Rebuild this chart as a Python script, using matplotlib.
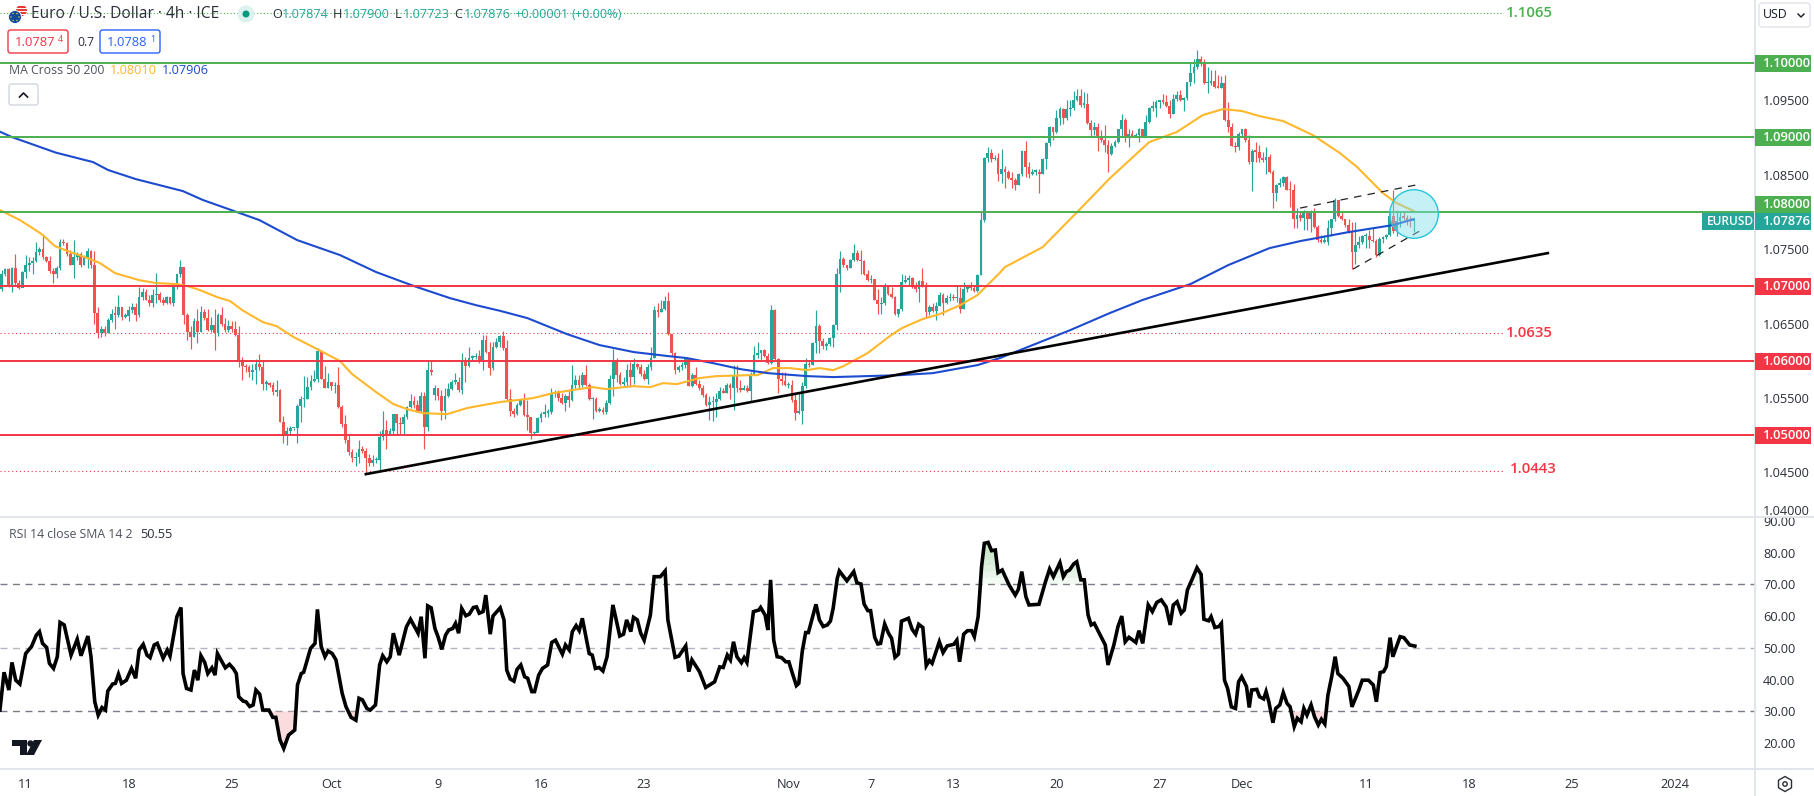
"""EUR/USD 4h chart with MA cross and RSI panel, redrawn in matplotlib."""
import numpy as np
import matplotlib
matplotlib.use("Agg")
import matplotlib.pyplot as plt
from matplotlib.patches import Circle, FancyBboxPatch, Polygon, Rectangle, RegularPolygon

plt.rcParams["font.family"] = ["Open Sans", "DejaVu Sans"]

# ---------------- data, candles in pips above 1.0000 ----------------
first_bar = -7
first_open = 697
gap_opens = {119: 554}
closes = [716, 723, 700, 725, 704, 698, 719,
    728, 731, 734, 746, 750, 740, 734, 721, 716, 725,
    759, 758, 744, 729, 740, 744, 729, 740, 747, 729,
    664, 637, 642, 637, 655, 663, 662, 672, 659, 660,
    668, 672, 661, 686, 692, 682, 677, 688, 690, 682,
    677, 685, 678, 699, 716, 726, 661, 638, 632, 654,
    638, 665, 657, 641, 648, 637, 661, 649, 641, 647,
    642, 635, 600, 593, 591, 585, 587, 596, 591, 569,
    570, 568, 558, 560, 518, 499, 505, 509, 509, 539,
    548, 549, 565, 573, 576, 613, 576, 564, 572, 566,
    567, 538, 515, 494, 477, 469, 471, 482, 479, 469,
    463, 466, 466, 497, 507, 500, 506, 528, 516, 515,
    524, 538, 546, 540, 533, 552, 511, 587, 585, 563,
    552, 533, 552, 562, 572, 572, 560, 600, 593, 604,
    605, 606, 600, 628, 612, 590, 619, 625, 633, 617,
    548, 532, 528, 541, 547, 527, 525, 503, 503, 523,
    529, 530, 531, 555, 558, 550, 543, 553, 547, 567,
    574, 567, 581, 567, 548, 549, 533, 534, 531, 543,
    575, 598, 581, 569, 571, 588, 578, 596, 592, 582,
    575, 592, 603, 668, 665, 670, 680, 636, 610, 588,
    592, 594, 602, 566, 581, 569, 564, 554, 540, 544,
    544, 549, 559, 557, 568, 563, 579, 564, 561, 563,
    559, 581, 608, 610, 614, 607, 597, 668, 602, 575,
    573, 567, 568, 547, 530, 533, 566, 596, 594, 624,
    646, 626, 620, 623, 630, 648, 716, 737, 728, 725,
    735, 745, 735, 734, 716, 708, 710, 682, 676, 677,
    701, 690, 685, 663, 669, 706, 708, 711, 699, 696,
    707, 702, 665, 672, 667, 674, 688, 677, 684, 686,
    684, 684, 670, 696, 699, 698, 694, 715, 789, 872,
    879, 871, 872, 851, 858, 854, 845, 843, 836, 851,
    882, 860, 851, 854, 854, 851, 871, 892, 914, 908,
    926, 938, 926, 938, 939, 951, 956, 944, 945, 919,
    910, 914, 902, 896, 890, 878, 889, 894, 911, 923,
    900, 905, 902, 903, 911, 901, 921, 940, 940, 948,
    950, 948, 942, 932, 952, 957, 950, 953, 974, 986,
    994, 1006, 1002, 973, 973, 976, 968, 967, 973, 923,
    914, 888, 887, 905, 912, 897, 867, 882, 881, 872,
    870, 874, 854, 825, 836, 839, 847, 830, 829, 791,
    796, 792, 800, 790, 799, 780, 762, 760, 760, 779,
    791, 816, 795, 790, 782, 773, 746, 755, 760, 767,
    767, 762, 761, 742, 764, 766, 769, 794, 774, 788,
    793, 792, 789, 787.4, 787.6]
highs = [722, 725, 724, 726, 743, 708, 721,
    742, 739, 740, 759, 753, 769, 741, 741, 724, 727,
    764, 764, 759, 749, 762, 746, 746, 742, 752, 749,
    747, 672, 646, 646, 657, 670, 673, 688, 672, 664,
    673, 677, 677, 699, 698, 697, 688, 697, 718, 693,
    686, 687, 686, 704, 717, 736, 726, 664, 646, 657,
    670, 673, 670, 670, 659, 670, 664, 672, 657, 655,
    654, 654, 646, 605, 596, 594, 596, 602, 609, 599,
    574, 572, 572, 574, 562, 526, 511, 512, 510, 542,
    552, 579, 578, 581, 587, 617, 614, 593, 583, 572,
    572, 592, 540, 527, 500, 482, 478, 493, 485, 483,
    475, 473, 471, 505, 533, 520, 509, 529, 529, 525,
    529, 539, 555, 552, 547, 558, 558, 601, 600, 567,
    561, 561, 563, 570, 574, 583, 578, 610, 605, 619,
    608, 610, 614, 634, 634, 625, 625, 630, 634, 640,
    628, 562, 536, 543, 549, 557, 547, 525, 505, 525,
    531, 542, 535, 563, 561, 561, 556, 555, 560, 594,
    581, 581, 585, 594, 570, 551, 551, 538, 538, 547,
    581, 616, 604, 585, 578, 596, 598, 603, 597, 595,
    587, 596, 618, 674, 677, 681, 687, 693, 636, 612,
    594, 598, 605, 604, 583, 592, 574, 568, 557, 552,
    552, 556, 565, 563, 570, 570, 594, 594, 574, 567,
    567, 585, 620, 625, 615, 616, 610, 675, 670, 603,
    585, 585, 572, 574, 558, 558, 572, 603, 601, 625,
    668, 649, 630, 625, 632, 649, 724, 747, 740, 728,
    737, 757, 749, 749, 736, 722, 715, 710, 697, 686,
    704, 702, 699, 687, 670, 716, 715, 715, 713, 706,
    709, 725, 706, 675, 677, 679, 693, 691, 688, 691,
    690, 702, 699, 706, 702, 706, 702, 717, 800, 874,
    887, 885, 876, 879, 885, 861, 856, 854, 845, 852,
    883, 895, 867, 858, 858, 858, 872, 894, 915, 914,
    937, 941, 939, 951, 950, 962, 965, 965, 961, 960,
    923, 921, 919, 910, 917, 897, 892, 897, 912, 931,
    926, 911, 910, 906, 913, 912, 930, 941, 949, 950,
    951, 959, 957, 950, 959, 963, 964, 955, 975, 1000,
    1006, 1018, 1010, 1005, 995, 991, 990, 984, 982, 984,
    948, 919, 894, 908, 912, 913, 903, 885, 894, 890,
    881, 887, 878, 856, 838, 845, 848, 848, 841, 838,
    805, 800, 802, 800, 802, 805, 782, 769, 769, 789,
    791, 818, 815, 800, 791, 791, 787, 787, 767, 769,
    771, 775, 780, 764, 766, 768, 770, 800, 829, 803,
    800, 800, 796, 794, 790]
lows = [694, 714, 699, 693, 702, 697, 700,
    711, 721, 716, 733, 742, 737, 733, 718, 705, 711,
    722, 755, 741, 728, 711, 735, 726, 729, 724, 724,
    650, 631, 632, 633, 637, 652, 643, 659, 655, 658,
    654, 664, 654, 659, 682, 681, 673, 672, 677, 679,
    675, 676, 676, 673, 696, 712, 650, 628, 616, 632,
    624, 638, 655, 640, 638, 615, 633, 647, 639, 639,
    639, 633, 592, 574, 585, 578, 574, 569, 587, 561,
    561, 565, 554, 552, 517, 490, 487, 500, 507, 490,
    517, 538, 548, 561, 572, 572, 575, 563, 563, 561,
    557, 537, 511, 489, 473, 464, 459, 462, 476, 448,
    458, 458, 462, 452, 494, 482, 501, 500, 502, 500,
    500, 522, 536, 536, 531, 531, 482, 505, 581, 547,
    547, 520, 522, 551, 561, 569, 558, 555, 572, 592,
    600, 602, 597, 587, 610, 581, 587, 617, 619, 615,
    547, 526, 525, 527, 539, 526, 507, 495, 500, 510,
    518, 525, 525, 528, 551, 546, 542, 533, 538, 546,
    563, 563, 565, 566, 547, 522, 531, 531, 529, 528,
    542, 552, 572, 567, 565, 565, 565, 569, 589, 579,
    574, 569, 588, 603, 659, 666, 668, 634, 607, 582,
    585, 587, 590, 566, 565, 567, 561, 551, 539, 520,
    519, 525, 547, 556, 556, 549, 534, 558, 558, 560,
    558, 546, 581, 603, 601, 605, 595, 595, 601, 557,
    568, 566, 563, 545, 520, 529, 515, 563, 592, 594,
    610, 610, 616, 614, 620, 619, 641, 693, 726, 722,
    724, 734, 734, 717, 715, 707, 705, 681, 663, 663,
    675, 688, 684, 661, 659, 667, 704, 702, 698, 693,
    679, 699, 659, 661, 666, 655, 673, 661, 676, 680,
    682, 679, 664, 669, 693, 695, 693, 693, 715, 787,
    867, 867, 870, 841, 839, 832, 844, 832, 830, 836,
    848, 847, 845, 850, 850, 825, 851, 857, 888, 897,
    906, 917, 918, 924, 929, 937, 949, 941, 939, 918,
    901, 903, 882, 894, 881, 853, 876, 887, 893, 901,
    894, 887, 900, 900, 894, 900, 900, 920, 935, 927,
    939, 945, 941, 926, 931, 949, 949, 935, 951, 969,
    973, 992, 996, 972, 960, 970, 967, 966, 967, 922,
    908, 888, 880, 883, 901, 894, 865, 828, 867, 867,
    867, 851, 852, 805, 814, 834, 835, 829, 807, 778,
    778, 788, 775, 775, 773, 779, 760, 758, 758, 755,
    767, 788, 793, 789, 780, 771, 723, 730, 751, 757,
    751, 751, 760, 740, 741, 758, 763, 767, 772, 767,
    780, 789, 782, 780, 772.3]

ma50_bars = [-7.5, -1.7, 2, 5, 8.5, 13, 18, 21.6, 26, 33, 38, 44, 47, 50.7, 55.7, 59.5, 63, 69, 73, 78,
    82, 86.5, 91.5, 95, 102, 107, 111, 115.6, 122.6, 128.4, 133, 138, 147.6, 153.5, 159, 165, 169,
    176.7, 181.7, 185.5, 189.5, 196, 201, 211, 213, 217.5, 222.4, 227.4, 231, 235, 238, 245, 251.5,
    255, 261, 266, 272, 277, 283.5, 285, 296, 300, 306, 315.6, 327, 335, 342.6, 348.5, 354, 359,
    366, 374.6, 382.5, 387.5, 395, 399, 404]
ma50_vals = [1.08024, 1.07890, 1.07782, 1.07688, 1.07540, 1.07460, 1.07379, 1.07312, 1.07177, 1.07083,
    1.07043, 1.07030, 1.07003, 1.06949, 1.06855, 1.06801, 1.06680, 1.06519, 1.06465, 1.06317,
    1.06223, 1.06116, 1.05995, 1.05820, 1.05578, 1.05417, 1.05349, 1.05296, 1.05282, 1.05363,
    1.05403, 1.05444, 1.05497, 1.05565, 1.05605, 1.05645, 1.05618, 1.05659, 1.05645, 1.05699,
    1.05685, 1.05766, 1.05793, 1.05806, 1.05806, 1.05901, 1.05901, 1.05874, 1.05901, 1.05874,
    1.05927, 1.06102, 1.06331, 1.06438, 1.06559, 1.06626, 1.06747, 1.06882, 1.07181, 1.07258,
    1.07527, 1.07715, 1.07997, 1.08454, 1.08938, 1.09073, 1.09301, 1.09382, 1.09355, 1.09288,
    1.09220, 1.09032, 1.08790, 1.08602, 1.08253, 1.08118, 1.08011]
ma200_bars = [-7.5, -4, 8.8, 19.6, 24, 32, 45.7, 51.6, 61.5, 68, 79, 91.5, 102, 113, 123.5, 131, 138,
    146, 157.5, 167, 177, 187, 192.5, 200, 208, 216, 227.4, 235, 254.5, 264, 277, 283.5, 304, 315.5,
    325, 339, 350, 362, 371, 385, 398, 404]
ma200_vals = [1.09077, 1.09005, 1.08796, 1.08669, 1.08562, 1.08441, 1.08280, 1.08159, 1.07997, 1.07890,
    1.07621, 1.07419, 1.07191, 1.07003, 1.06841, 1.06747, 1.06671, 1.06573, 1.06358, 1.06210,
    1.06116, 1.06062, 1.06035, 1.05968, 1.05887, 1.05833, 1.05793, 1.05780, 1.05806, 1.05833,
    1.05941, 1.06035, 1.06411, 1.06640, 1.06815, 1.07030, 1.07285, 1.07513, 1.07608, 1.07728,
    1.07823, 1.07903]

rsi_bars = [-7.5, -6.3, -4.9, -4.0, -2.9, -1.7, 0, 1.7, 3.1, 4.0, 4.9, 6.1, 6.9, 8.1, 9.2, 10.0, 11.2, 13.2,
    15.0, 16.1, 18.1, 19.0, 20.1, 21.1, 22.2, 23.2, 23.9, 25.3, 26.1, 27.0, 27.9, 29.3, 30.8, 32.0, 33.0,
    34.2, 35.3, 36.2, 37.4, 38.3, 40.0, 41.2, 42.0, 44.0, 45.2, 45.8, 46.8, 48.1, 49.1, 50.1, 51.0, 52.1,
    53.0, 54.2, 55.1, 55.8, 58.1, 59.3, 60.4, 61.3, 62.0, 63.3, 64.1, 65.2, 66.2, 67.0, 68.1, 69.0, 70.8,
    71.9, 72.8, 74.0, 75.1, 76.5, 78.3, 79.1, 80.2, 80.9, 82.9, 84.2, 84.9, 86.0, 87.1, 88.0, 89.2, 90.3,
    92.1, 93.2, 94.7, 96.1, 97.0, 98.0, 99.3, 100.3, 101.8, 103.0, 103.9, 105.1, 106.1, 107.0, 108.7,
    110.8, 112.0, 114.2, 115.1, 116.2, 117.0, 118.0, 119.1, 120.0, 121.1, 122.2, 123.1, 124.3, 125.1,
    126.0, 126.9, 128.1, 129.1, 130.3, 131.2, 132.0, 133.1, 133.9, 135.2, 136.0, 138.1, 139.2, 140.0,
    141.0, 142.1, 143.0, 144.1, 145.2, 146.1, 147.3, 148.1, 149.3, 150.4, 151.9, 153.1, 154.2, 156.2,
    157.1, 158.2, 159.1, 160.2, 161.1, 162.0, 164.0, 164.9, 165.8, 166.9, 168.0, 169.2, 170.9,
    172.9, 174.0, 174.9, 176.1, 176.9, 178.0, 179.0, 180.0, 181.8, 182.9, 184.7, 186.1, 186.9, 189.0,
    190.1, 192.1, 193.0, 193.9, 196.1, 197.9, 200.5, 202.0, 203.0, 204.2, 205.1, 206.0, 207.0, 208.3,
    209.1, 209.9, 211.8, 213.4, 213.9, 215.2, 216.0, 216.8, 217.7, 218.7, 220.0, 221.2, 222.1, 223.3,
    224.3, 225.0, 226.0, 227.0, 227.8, 230.0, 231.0, 232.1, 233.3, 234.2, 235.0, 236.2, 236.8, 239.0,
    241.0, 241.9, 243.1, 244.0, 245.1, 245.9, 247.1, 248.0, 248.8, 250.0, 251.1, 252.0, 253.0, 254.0,
    254.9, 256.9, 258.0, 259.0, 259.9, 261.1, 262.1, 263.0, 263.8, 265.9, 267.0, 268.2, 270.1, 271.0,
    271.8, 273.0, 274.1, 275.3, 276.1, 277.2, 278.2, 279.0, 280.1, 281.1, 282.2, 283.0, 284.2, 286.2,
    288.0, 288.9, 289.9, 291.1, 292.0, 294.9, 296.8, 298.0, 299.1, 301.0, 302.0, 302.9, 303.8, 305.0,
    305.9, 307.1, 308.1, 309.2, 310.1, 311.0, 314.2, 315.0, 316.7, 317.9, 319.0, 320.0, 321.1, 323.1,
    324.0, 325.1, 326.7, 327.9, 329.2, 330.5, 331.9, 333.1, 334.0, 335.1, 336.3, 337.2, 338.1, 339.4,
    340.9, 342.1, 342.9, 344.3, 345.0, 346.1, 347.3, 348.0, 348.9, 349.8, 350.9, 352.1, 353.0, 353.9,
    355.3, 356.1, 356.8, 358.3, 359.1, 360.3, 361.0, 361.8, 363.0, 363.8, 365.0, 366.0, 367.1, 368.0,
    369.2, 370.1, 371.2, 372.0, 372.9, 374.1, 375.1, 376.2, 377.1, 378.1, 379.0, 380.1, 381.1, 381.9,
    383.4, 385.1, 386.0, 388.0, 389.0, 390.8, 392.2, 393.1, 394.2, 395.2, 396.0, 397.1, 397.9, 400.0,
    401.1, 402.8, 404.3]
rsi_vals = [30.4, 42.3, 36.7, 45.4, 39.8, 38.6, 48.2, 50.4, 54.0, 55.1, 51.4, 50.1, 45.1, 43.5, 47.2, 58.0, 57.2, 47.7,
    52.7, 47.5, 53.7, 47.2, 33.0, 28.8, 31.2, 30.4, 36.4, 38.6, 38.8, 41.7, 38.8, 39.8, 43.5, 40.4, 49.3,
    51.1, 47.7, 46.9, 50.9, 51.4, 46.7, 49.3, 47.4, 59.8, 62.7, 41.9, 37.2, 36.7, 43.0, 39.8, 47.5, 45.4,
    41.9, 43.7, 41.4, 48.2, 43.7, 44.8, 43.5, 41.9, 34.6, 33.2, 33.0, 31.5, 32.0, 36.7, 35.4, 30.4, 30.4,
    28.1, 28.1, 21.0, 18.3, 22.5, 24.1, 38.3, 41.9, 42.3, 49.8, 51.4, 62.1, 50.4, 47.2, 49.0, 48.2, 46.2,
    35.7, 31.5, 28.1, 27.2, 34.1, 33.6, 30.9, 30.4, 32.0, 44.6, 47.5, 45.6, 47.2, 54.6, 47.7,
    56.6, 59.0, 54.6, 59.8, 46.7, 63.2, 62.6, 56.1, 53.5, 49.5, 54.0, 55.6, 56.1, 57.7,
    54.6, 62.4, 60.1, 60.6, 62.7, 62.9, 60.9, 61.4, 66.6, 54.3, 60.0, 62.6, 58.8, 43.0,
    40.2, 39.5, 43.2, 44.6, 40.9, 40.4, 36.2, 36.2, 41.4, 43.5, 44.6, 51.7, 52.4, 48.0,
    50.9, 49.3, 55.1, 57.0, 55.4, 59.3, 48.2, 47.7, 43.5, 43.8, 42.7, 47.2, 63.5,
    53.7, 54.3, 58.8, 55.1, 59.6, 58.8, 54.6, 52.4, 60.3, 72.4, 72.4, 74.2, 58.8, 47.0,
    47.4, 50.6, 42.5, 46.2, 42.5, 37.5, 39.3, 44.0, 43.8, 47.7, 46.2, 51.9, 47.2, 45.3,
    46.9, 45.4, 61.4, 61.9, 62.7, 60.3, 55.6, 71.4, 52.4, 47.2, 46.9, 45.6, 45.6, 41.4,
    38.1, 38.8, 48.8, 54.8, 54.8, 63.7, 58.8, 56.7, 57.2, 58.4, 62.4, 71.9, 74.2, 71.1,
    74.0, 70.5, 70.1, 63.8, 61.7, 61.7, 53.3, 51.2, 51.4, 57.5, 54.6, 53.0, 47.0, 48.0,
    58.4, 59.3, 55.8, 54.3, 57.4, 56.4, 44.4, 46.0, 45.1, 51.9, 48.5, 50.6, 51.1, 52.4,
    45.6, 54.3, 55.4, 55.4, 53.5, 59.8, 75.6, 82.9, 83.2, 80.6, 80.8, 73.7, 74.5, 69.8,
    66.6, 68.4, 74.0, 66.1, 63.5, 63.7, 70.8, 74.8, 72.4, 76.8, 72.4, 74.0, 74.5, 76.4,
    77.1, 71.4, 71.4, 60.3, 57.2, 57.7, 50.9, 44.6, 50.9, 56.7, 60.0, 51.9, 53.3, 51.7,
    55.4, 51.4, 63.5, 61.4, 64.3, 65.1, 62.9, 57.2, 63.5, 64.5, 60.9, 61.9, 68.2, 71.4,
    75.2, 73.1, 59.0, 58.5, 59.8, 56.4, 56.7, 57.7, 39.8, 37.2, 31.4, 30.9, 39.3, 40.9,
    37.8, 31.2, 36.7, 36.9, 34.6, 33.9, 36.2, 33.0, 26.4, 30.9, 32.0, 35.9, 32.5, 31.4,
    25.2, 27.8, 26.7, 30.9, 28.8, 32.0, 28.3, 25.7, 27.5, 26.0, 35.1, 40.9, 47.2, 41.9,
    40.4, 37.8, 31.4, 36.7, 39.8, 39.8, 38.3, 33.0, 42.2, 42.5, 44.1, 53.2, 47.2, 53.5,
    53.2, 50.9, 50.55]

green_levels = [1.10, 1.09, 1.08]
red_levels = [1.07, 1.06, 1.05]
dotted_green = [1.1067]
dotted_red = [1.0637, 1.0452]
trend_bars = [99, 443]
trend_vals = [1.04476, 1.07446]
channel_up_bars = [370.9, 406]
channel_up_vals = [1.08051, 1.08374]
channel_low_bars = [386.3, 406.7]
channel_low_vals = [1.07231, 1.07769]

price_ticks = [1.04, 1.045, 1.055, 1.065, 1.075, 1.085, 1.095]
rsi_ticks = [20, 30, 40, 50, 60, 70, 80, 90]
date_ticks = [0, 30, 60, 89, 120, 150, 180, 222, 246, 270, 300, 330, 354, 390, 420, 450, 480]
date_labels = ["11", "18", "25", "Oct", "9", "16", "23", "Nov", "7", "13", "20", "27", "Dec", "11", "18", "25", "2024"]

UP, DOWN = "#26A69A", "#EF5350"
GREEN, RED = "#4CAF50", "#F23645"
ORANGE, BLUE = "#FFB72B", "#1C4BCF"
TXT, GRID = "#2A2E39", "#E0E3EB"
W, H = 1814, 796

fig = plt.figure(figsize=(W / 100, H / 100), dpi=100, facecolor="white")
ax = fig.add_axes([0, (H - 517) / H, 1755 / W, 517 / H])
ax2 = fig.add_axes([0, (H - 769) / H, 1755 / W, 252 / H])
over = fig.add_axes([0, 0, 1, 1], zorder=10)
over.set_xlim(0, W); over.set_ylim(H, 0); over.axis("off"); over.patch.set_alpha(0)

# ---------------- price panel ----------------
bars = np.arange(first_bar, first_bar + len(closes))
c = 1 + np.array(closes) / 1e4
hi = 1 + np.array(highs) / 1e4
lo = 1 + np.array(lows) / 1e4
o = np.r_[1 + first_open / 1e4, c[:-1]]
for b, v in gap_opens.items():
    o[b - first_bar] = 1 + v / 1e4
cols = [UP if y >= x else DOWN for x, y in zip(o, c)]
ax.vlines(bars, lo, hi, colors=cols, lw=0.85, zorder=2)
ax.bar(bars, np.maximum(np.abs(c - o), 0.00018), bottom=np.minimum(o, c), width=0.8, color=cols, linewidth=0, zorder=2)

ax.plot(ma50_bars, ma50_vals, color=ORANGE, lw=1.5, zorder=3)
ax.plot(ma200_bars, ma200_vals, color=BLUE, lw=1.5, zorder=3)
for lv in green_levels:
    ax.axhline(lv, color=GREEN, lw=1.4, zorder=4)
for lv in red_levels:
    ax.axhline(lv, color=RED, lw=1.4, zorder=4)
for lv in dotted_green:
    ax.plot([-7.5, 430], [lv, lv], color=GREEN, lw=0.8, ls=(0, (1, 2)), zorder=1)
for lv in dotted_red:
    ax.plot([-7.5, 430], [lv, lv], color=RED, lw=0.8, ls=(0, (1, 2.5)), zorder=1)
ax.plot(trend_bars, trend_vals, color="black", lw=1.9, zorder=5)
ax.plot(channel_up_bars, channel_up_vals, color="#222222", lw=0.9, ls=(0, (6, 5)), zorder=5)
ax.plot(channel_low_bars, channel_low_vals, color="#222222", lw=0.9, ls=(0, (6, 5)), zorder=5)

ax.set_xlim(-7.48, 503.3)
ax.set_ylim(1.0390, 1.10847)
ax.set_xticks([])
ax.yaxis.tick_right()
ax.set_yticks(price_ticks, [f"{t:.5f}" for t in price_ticks])
ax.tick_params(axis="y", length=0, pad=5.8, labelsize=9.2, labelcolor=TXT)
for s in ax.spines.values():
    s.set_visible(False)

# ---------------- RSI panel ----------------
ax2.plot(rsi_bars, rsi_vals, color="black", lw=2.6, zorder=4, solid_joinstyle="miter")
rb, rv = np.array(rsi_bars), np.array(rsi_vals)
# overbought fill fades out towards the 70 line
for lvl in range(70, 84, 2):
    ax2.fill_between(rb, lvl, rv, where=rv >= lvl, interpolate=True, color="#A5D6A7", alpha=0.13, lw=0, zorder=2)
ax2.fill_between(rb, 30, rv, where=rv <= 30, interpolate=True, color="#F8C6CB", alpha=0.6, lw=0, zorder=2)
ax2.axhline(70, color="#787B86", lw=1, ls=(0, (5, 4)), zorder=1)
ax2.axhline(50, color="#B2B5BE", lw=1, ls=(0, (5, 4)), zorder=1)
ax2.axhline(30, color="#787B86", lw=1, ls=(0, (5, 4)), zorder=1)
ax2.set_xlim(-7.48, 503.3)
ax2.set_ylim(11.83, 91.2)
ax2.yaxis.tick_right()
ax2.set_yticks(rsi_ticks, [f"{t:.2f}" for t in rsi_ticks])
ax2.set_xticks(date_ticks, date_labels)
ax2.tick_params(axis="y", length=0, pad=5.8, labelsize=9.2, labelcolor=TXT)
ax2.tick_params(axis="x", length=0, pad=6.5, labelsize=9.2, labelcolor=TXT)
for s in ax2.spines.values():
    s.set_visible(False)

# ---------------- chrome: separators, tags, legend ----------------
over.plot([0, W], [517, 517], color=GRID, lw=1.3)
over.plot([0, W], [769, 769], color=GRID, lw=1.3)
over.plot([1755, 1755], [0, H], color=GRID, lw=1.3)


def label(x, y, s, color=TXT, size=9.2, **kw):
    kw.setdefault("ha", "left")
    over.text(x, y, s, color=color, fontsize=size, va="center", **kw)


def tag(x0, x1, top, s, color, size=9.4):
    over.add_patch(Rectangle((x0, top), x1 - x0, 17, fc=color, ec="none", zorder=6))
    label(x0 + (8 if x0 > 1750 else 5), top + 8.5, s, color="white", size=size, fontweight="semibold", zorder=7)


tag(1755, 1811, 55, "1.10000", GREEN)
tag(1755, 1811, 129, "1.09000", GREEN)
tag(1755, 1811, 196, "1.08000", GREEN)
tag(1755, 1811, 278, "1.07000", RED)
tag(1755, 1811, 353, "1.06000", RED)
tag(1755, 1811, 427, "1.05000", RED)
tag(1755, 1811, 213, "1.07876", UP)
tag(1702, 1754, 213, "EURUSD", UP, 8.6)

label(1506, 13, "1.1065", GREEN, 10.8, fontweight="semibold")
label(1506, 333, "1.0635", RED, 10.8, fontweight="semibold")
label(1510, 469, "1.0443", RED, 10.8, fontweight="semibold")

over.add_patch(Circle((1414, 214), 24.3, fc="#80DEEA", ec="none", alpha=0.45, zorder=5))
over.add_patch(Circle((1414, 214), 24.3, fc="none", ec="#26C6DA", lw=1, zorder=5))

# header: flag pair
us = Circle((21.5, 10.5), 5.5, fc="white", ec="none")
over.add_patch(us)
for yy in (6, 9, 12, 15):
    st = Rectangle((15, yy), 13, 1.5, fc="#E53935", ec="none")
    over.add_patch(st)
    st.set_clip_path(us)
eu = Circle((15, 17), 6.5, fc="#0F4C9C", ec="white", lw=0.6)
over.add_patch(eu)
for a in np.arange(0, 360, 60):
    over.add_patch(Circle((15 + 4 * np.cos(np.radians(a)), 17 + 4 * np.sin(np.radians(a))), 0.7, fc="#FFD54F", ec="none"))

label(31, 14, "Euro / U.S. Dollar · 4h · ICE", TXT, 11.2)
over.add_patch(Circle((246, 14), 8.5, fc="#DDF1EE", ec="none"))
over.add_patch(Circle((246, 14), 3.5, fc="#089981", ec="none"))
for x, s in [(272, "O"), (333, "H"), (395, "L"), (454, "C")]:
    label(x, 14, s, TXT, 9.2)
for x, s in [(282, "1.07874"), (343, "1.07900"), (403, "1.07723"), (464, "1.07876"), (514, "+0.00001"), (572, "(+0.00%)")]:
    label(x, 14, s, UP, 9.2)

for x0, s, small, col in [(8, "1.0787", "4", RED), (100, "1.0788", "1", "#2962FF")]:
    over.add_patch(FancyBboxPatch((x0, 30), 60, 23, boxstyle="round,pad=0,rounding_size=2.5", fc="white", ec=col, lw=1))
    label(x0 + 7, 42, s, col, 9.4)
    label(x0 + 50, 40, small, col, 6.4)
label(77, 42, "0.7", TXT, 8.8)

label(9, 71, "MA Cross 50 200", "#50535E", 8.8)
label(110, 71, "1.08010", ORANGE, 9.2)
label(162, 71, "1.07906", BLUE, 9.2)
over.add_patch(FancyBboxPatch((9, 84), 29, 21, boxstyle="round,pad=0,rounding_size=2.5", fc="white", ec="#D1D4DC", lw=1))
over.plot([19.5, 23.5, 27.5], [97, 93, 97], color="#131722", lw=1.2)

over.add_patch(FancyBboxPatch((1759, 3), 51, 24, boxstyle="round,pad=0,rounding_size=3", fc="white", ec=GRID, lw=1))
label(1763, 15, "USD", "#131722", 8.8)
over.plot([1798, 1801, 1804], [14, 17, 14], color="#131722", lw=1)

label(9, 535, "RSI 14 close SMA 14 2", "#50535E", 8.8)
label(140, 535, "50.55", TXT, 9.2)

# TradingView mark
over.add_patch(Polygon([(12, 740), (27, 740), (27, 755), (20, 755), (20, 746), (12, 746)], fc="#131722", ec="none"))
over.add_patch(Circle((30.5, 743.5), 3.2, fc="#131722", ec="none"))
over.add_patch(Polygon([(34, 755), (26, 755), (34, 740), (42, 740)], fc="#131722", ec="none"))

# settings icon
over.add_patch(RegularPolygon((1785, 784), 6, radius=7.5, fc="white", ec="#2A2E39", lw=1))
over.add_patch(Circle((1785, 784), 2.2, fc="white", ec="#2A2E39", lw=1))

fig.savefig("out.png", dpi=100)
plt.close(fig)
